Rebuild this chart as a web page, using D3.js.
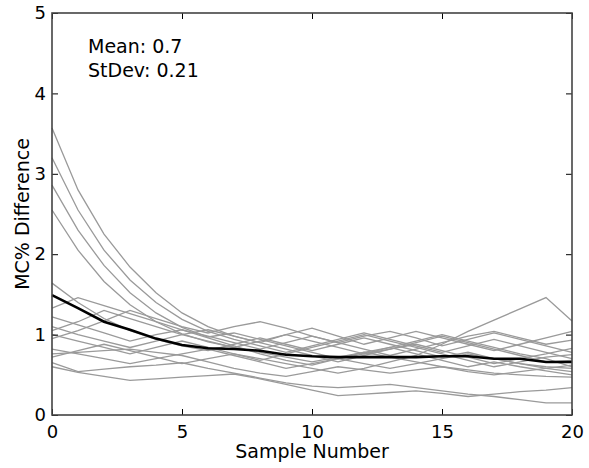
<!DOCTYPE html>
<html>
<head>
  <meta charset="utf-8">
  <title>MC% Difference</title>
  <style>
    body { margin: 0; background: #fff; }
    text { font-family: "DejaVu Sans", sans-serif; fill: #000; }
    .run { fill: none; stroke: #9a9a9a; stroke-width: 1.3px; }
    .mean { fill: none; stroke: #000; stroke-width: 2.6px; }
  </style>
</head>
<body>
  <svg width="589" height="468"></svg>
  <script src="https://d3js.org/d3.v7.min.js"></script>
  <script>
    // sample numbers 0..20
    const samples = [0,1,2,3,4,5,6,7,8,9,10,11,12,13,14,15,16,17,18,19,20];

    // individual runs (gray)
    const decay1 = [3.57,2.80,2.25,1.84,1.52,1.27,1.10,0.98,0.90,1.00,1.08,0.98,0.88,0.96,1.04,0.96,0.88,0.80,0.88,0.96,1.04];
    const decay2 = [3.20,2.55,2.05,1.68,1.40,1.19,1.04,0.94,0.86,0.78,0.86,0.94,1.02,0.94,0.86,0.78,0.86,0.94,0.86,0.78,0.70];
    const decay3 = [2.86,2.30,1.86,1.52,1.27,1.09,0.97,1.02,0.94,0.86,0.78,0.70,0.76,0.82,0.88,0.80,0.72,0.64,0.70,0.76,0.83];
    const decay4 = [2.55,2.05,1.66,1.37,1.16,1.01,0.91,0.84,0.78,0.72,0.66,0.72,0.78,0.84,0.76,0.68,0.60,0.66,0.60,0.55,0.50];
    const decay5 = [1.64,1.40,1.20,1.05,0.94,0.86,0.80,0.88,0.96,0.88,0.80,0.88,0.96,0.88,0.80,0.72,0.78,0.70,0.64,0.58,0.54];
    const walk1 = [1.33,1.46,1.36,1.26,1.16,1.06,0.96,0.86,0.76,0.68,0.62,0.70,0.78,0.72,0.66,0.60,0.54,0.50,0.54,0.58,0.62];
    const walk2 = [1.05,1.16,1.30,1.20,1.10,1.00,0.92,0.84,0.92,1.00,0.92,0.84,0.76,0.84,0.92,1.00,0.92,0.84,0.76,0.70,0.60];
    const walk3 = [0.95,1.05,1.17,1.30,1.20,1.10,1.02,1.10,1.16,1.08,0.98,0.90,0.98,1.04,0.96,0.86,0.94,1.02,0.94,0.86,0.78];
    const walk4 = [1.22,1.12,1.02,0.92,1.00,1.06,0.98,0.90,0.82,0.90,0.98,0.90,0.82,0.74,0.82,0.90,0.98,1.04,0.96,0.88,0.93];
    const walk5 = [1.10,1.00,0.92,0.84,0.92,1.00,1.06,0.98,0.90,0.82,0.74,0.66,0.74,0.82,0.90,0.98,0.90,0.82,0.74,0.66,0.68];
    const walk6 = [1.00,0.92,0.84,0.76,0.84,0.92,0.84,0.76,0.68,0.76,0.84,0.92,1.00,0.92,0.84,0.76,0.68,0.60,0.66,0.72,0.75];
    const walk7 = [0.82,0.76,0.70,0.64,0.70,0.76,0.82,0.74,0.66,0.58,0.64,0.70,0.64,0.58,0.64,0.70,0.76,0.70,0.64,0.60,0.58];
    const walk8 = [0.76,0.78,0.80,0.82,0.78,0.74,0.66,0.58,0.52,0.48,0.54,0.60,0.56,0.52,0.56,0.60,0.56,0.52,0.50,0.48,0.47];
    const walk9 = [0.72,0.80,0.88,0.80,0.72,0.64,0.70,0.76,0.70,0.64,0.58,0.52,0.58,0.66,0.74,0.88,1.04,1.18,1.32,1.46,1.17];
    const low1 = [0.60,0.53,0.48,0.43,0.45,0.47,0.49,0.51,0.45,0.38,0.31,0.24,0.26,0.28,0.30,0.27,0.23,0.26,0.29,0.31,0.34];
    const low2 = [0.65,0.54,0.57,0.60,0.62,0.65,0.58,0.52,0.46,0.40,0.36,0.34,0.36,0.38,0.34,0.30,0.26,0.23,0.19,0.15,0.15];

    // average over runs (black)
    const meanLine = [1.49,1.33,1.16,1.06,0.95,0.87,0.83,0.82,0.80,0.75,0.73,0.72,0.72,0.72,0.72,0.73,0.73,0.70,0.70,0.66,0.66];

    const xTicks = [0, 5, 10, 15, 20];
    const yTicks = [0, 1, 2, 3, 4, 5];
    const statText = ["Mean: 0.7", "StDev: 0.21"];

    const runs = [decay1, decay2, decay3, decay4, decay5, walk1, walk2, walk3,
                  walk4, walk5, walk6, walk7, walk8, walk9, low1, low2];

    const svg = d3.select("svg");
    const m = { left: 52, right: 572, top: 13, bottom: 415 };

    const x = d3.scaleLinear().domain([0, 20]).range([m.left, m.right]);
    const y = d3.scaleLinear().domain([0, 5]).range([m.bottom, m.top]);

    const line = d3.line()
        .x((d, i) => x(samples[i]))
        .y(d => y(d));

    const plot = svg.append("g");

    plot.selectAll(".run")
        .data(runs)
        .enter().append("path")
        .attr("class", "run")
        .attr("d", line);

    plot.append("path")
        .attr("class", "mean")
        .attr("d", line(meanLine));

    // axes, ticks pointing inward like matplotlib classic
    const fs = 18;
    const tickStyle = g => {
      g.select(".domain").remove();
      g.selectAll(".tick line").attr("stroke", "#000").attr("stroke-width", 1);
    };

    svg.append("g")
        .attr("transform", `translate(0,${m.bottom})`)
        .call(d3.axisBottom(x).tickValues(xTicks).tickSize(-6).tickPadding(10).tickFormat(d3.format("d")))
        .call(tickStyle)
        .selectAll("text").attr("font-size", fs).attr("font-family", "DejaVu Sans").attr("fill", "#000");

    svg.append("g")
        .attr("transform", `translate(0,${m.top})`)
        .call(d3.axisTop(x).tickValues(xTicks).tickSize(-6).tickFormat(""))
        .call(tickStyle);

    svg.append("g")
        .attr("transform", `translate(${m.left},0)`)
        .call(d3.axisLeft(y).tickValues(yTicks).tickSize(-6).tickPadding(6).tickFormat(d3.format("d")))
        .call(tickStyle)
        .selectAll("text").attr("font-size", fs).attr("font-family", "DejaVu Sans").attr("fill", "#000");

    svg.append("g")
        .attr("transform", `translate(${m.right},0)`)
        .call(d3.axisRight(y).tickValues(yTicks).tickSize(-6).tickFormat(""))
        .call(tickStyle);

    // frame
    svg.append("rect")
        .attr("x", m.left).attr("y", m.top)
        .attr("width", m.right - m.left).attr("height", m.bottom - m.top)
        .attr("fill", "none").attr("stroke", "#444").attr("stroke-width", 1.6);

    // stats annotation
    svg.append("g").selectAll("text")
        .data(statText)
        .enter().append("text")
        .attr("x", 88)
        .attr("y", (d, i) => 53 + i * 24)
        .attr("font-size", 19)
        .text(d => d);

    svg.append("text")
        .attr("x", (m.left + m.right) / 2)
        .attr("y", 458)
        .attr("text-anchor", "middle")
        .attr("font-size", 19)
        .text("Sample Number");

    svg.append("text")
        .attr("transform", `translate(29,${(m.top + m.bottom) / 2}) rotate(-90)`)
        .attr("text-anchor", "middle")
        .attr("font-size", 19)
        .text("MC% Difference");
  </script>
</body>
</html>
